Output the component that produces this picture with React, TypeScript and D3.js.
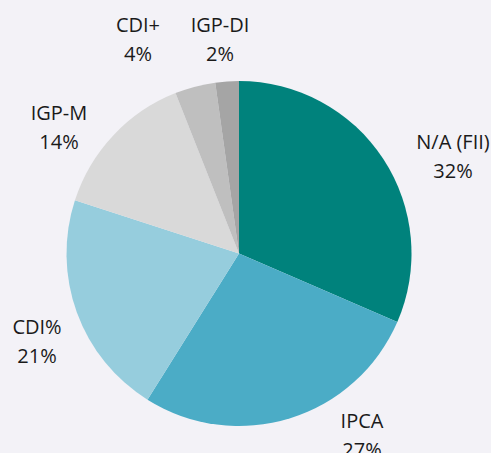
import React from 'react';
import * as d3 from 'd3';

// Data
const categories = ['N/A (FII)', 'IPCA', 'CDI%', 'IGP-M', 'CDI+', 'IGP-DI'];
const shares = [31.5, 27.4, 21.1, 14.0, 3.8, 2.2];
const shareLabels = ['32%', '27%', '21%', '14%', '4%', '2%'];
const colors = ['#00827c', '#4bacc6', '#96cddd', '#d9d9d9', '#bfbfbf', '#a5a5a5'];
// label anchor (center x, first baseline y), Excel "best fit" placement
const labelPos: [number, number][] = [
  [453, 149],
  [362, 428],
  [37, 334],
  [59, 120],
  [138, 32],
  [220, 32],
];

const W = 491;
const H = 453;

export default function App() {
  const cx = 239;
  const cy = 253.5;
  const r = 172.5;

  const pie = d3.pie<number>().sort(null).value(d => d);
  const arcs = pie(shares);
  const arc = d3.arc<d3.PieArcDatum<number>>().innerRadius(0).outerRadius(r);

  return (
    <div style={{ position: 'fixed', left: 0, top: 0, width: W, height: H }}>
      <svg width={W} height={H} style={{ display: 'block', background: '#f3f2f7' }}>
        <g transform={`translate(${cx},${cy})`}>
          {arcs.map((a, i) => (
            <path key={i} d={arc(a) || ''} fill={colors[i]} />
          ))}
        </g>
        <g fontFamily="'Open Sans', 'Noto Sans', sans-serif" fontSize={20} fill="#1a1a1a" textAnchor="middle">
          {categories.map((c, i) => (
            <text key={c} x={labelPos[i][0]} y={labelPos[i][1]}>
              <tspan x={labelPos[i][0]}>{c}</tspan>
              <tspan x={labelPos[i][0]} dy={29}>{shareLabels[i]}</tspan>
            </text>
          ))}
        </g>
      </svg>
    </div>
  );
}
